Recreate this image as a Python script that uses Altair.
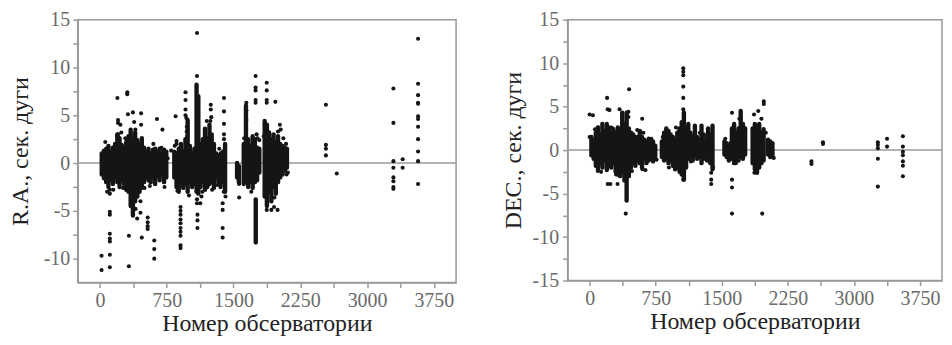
import altair as alt
import pandas as pd

# ---------- R.A. panel: dense body per observatory column (x, low, high) ----------
RA_COL_X = [20, 45, 70, 95, 120, 145, 170, 195, 220, 245, 270, 295, 320, 345, 370, 395, 420, 445, 470, 495,
            520, 545, 570, 595, 620, 645, 670, 695, 720, 745,
            835, 860, 885, 910, 935, 960, 985, 1010, 1035, 1060, 1085, 1105, 1130, 1155, 1180, 1205, 1230,
            1255, 1280, 1305, 1330, 1355, 1380, 1405,
            1540, 1560, 1615, 1640, 1665, 1690, 1715, 1740, 1750, 1765, 1790,
            1850, 1875, 1900, 1925, 1950, 1975, 2000, 2025, 2050, 2075, 2100]
RA_COL_LO = [-1.2, -1.6, -2.0, -2.5, -1.8, -2.2, -1.5, -2.0, -2.5, -1.8, -2.2, -2.8, -3.0, -4.5, -5.5, -4.0, -3.5, -3.0, -2.6, -2.0,
             -1.5, -1.8, -2.0, -1.5, -2.2, -1.4, -1.8, -1.2, -2.0, -1.5,
             -1.5, -2.5, -3.0, -2.0, -2.6, -2.2, -3.0, -2.0, -2.5, -2.2, -3.0, -3.2, -2.5, -2.0, -2.8, -2.5, -2.2,
             -2.0, -2.6, -1.5, -2.0, -2.5, -2.0, -3.0,
             -1.5, -2.0, -2.2, -1.8, -2.5, -2.0, -2.6, -2.0, -8.3, -1.8, -1.0,
             -3.5, -4.5, -3.0, -4.0, -2.5, -3.2, -2.0, -1.5, -1.2, -0.8, -0.5]
RA_COL_HI = [1.0, 1.3, 1.5, 1.8, 1.2, 1.6, 2.0, 3.0, 2.6, 1.9, 1.5, 2.2, 2.8, 3.5, 2.5, 3.2, 2.4, 2.0, 2.6, 1.6,
             1.2, 1.5, 1.0, 1.4, 1.5, 1.2, 1.5, 1.0, 1.4, 1.2,
             1.2, 1.0, 1.5, 2.0, 1.2, 2.5, 4.5, 1.8, 1.0, 1.5, 8.2, 7.0, 2.0, 2.5, 3.6, 2.6, 4.0,
             3.0, 2.0, 1.0, 0.8, 1.0, 1.2, 2.0,
             0.0, -0.3, 2.0, 6.0, 2.5, 1.8, 2.8, 2.5, -3.8, 1.6, 1.5,
             4.4, 4.0, 3.2, 2.5, 3.0, 2.2, 2.8, 2.0, 1.8, 1.6, 1.5]

# ---------- R.A. panel: individual points ----------
RA_PT_X = [18, 18, 111, 111, 111, 111, 111, 111, 111, 111, 111, 80,
           196, 203, 203, 203, 196, 230, 240,
           307, 307, 325, 325, 314, 370, 398, 384,
           462, 462, 455, 455, 418, 470, 400,
           536, 536, 536, 536, 610, 610, 610, 640, 702, 800,
           850, 860, 860,
           905, 905, 905, 905, 905, 905, 905, 905, 905, 905,
           961, 961, 961, 961, 970, 975, 975, 980,
           1090, 1090, 1090, 1090, 1095, 1095, 1095, 1127, 1140,
           1245, 1245, 1250, 1240, 1260,
           1393, 1393, 1393, 1393, 1393, 1378, 1378, 1378, 1378, 1390,
           1563, 1563, 1560,
           1644, 1644, 1644,
           1748, 1748, 1748, 1748, 1748, 1760, 1770,
           1873, 1873, 1873, 1873, 1970, 1873, 1925, 1995, 1955,
           2021, 2030, 2000, 2095, 2090,
           2538, 2538, 2538, 2538, 2660,
           3296, 3296, 3296, 3296, 3296, 3296, 3296, 3296,
           3400, 3400,
           3573, 3573, 3573, 3573, 3573, 3573, 3573, 3573, 3573, 3573, 3573, 3573,
           60, 150, 260, 285, 500, 560, 600, 690, 725, 760, 840, 870, 1000, 1150, 1200,
           1320, 1340, 1410, 1620, 1700, 1790, 1840, 1960, 2060, 2110]
RA_PT_Y = [-9.7, -11.2, -9.6, -10.9, -8.2, -7.9, -7.4, -5.4, -5.1, -3.2, -2.8, -3.0,
           6.8, 4.5, 4.2, 3.0, 2.8, 4.0, 3.2,
           7.4, 7.2, -7.6, -10.8, 5.1, 5.3, 3.5, 4.3,
           5.2, 4.0, -4.0, -5.2, -5.8, -7.8, -4.8,
           -5.7, -6.2, -6.6, -6.9, -8.1, -9.0, -10.0, 4.6, 3.5, 1.3,
           4.9, 2.3, 2.0,
           -4.6, -5.0, -5.4, -5.9, -6.3, -6.8, -7.2, -7.6, -8.6, -8.9,
           7.4, 6.6, 5.6, 5.0, 4.7, 3.8, 3.3, 2.8,
           13.6, 9.1, -3.8, -4.2, -5.4, -6.0, -6.8, -4.2, -3.5,
           6.1, 5.6, 4.8, 4.4, -2.8,
           6.8, 5.4, 4.1, 3.0, 2.5, -4.2, -4.9, -6.8, -7.8, -3.0,
           -3.6, -2.2, -1.0,
           6.3, 5.5, 4.5,
           9.1, 7.9, 7.6, 6.6, 6.3, 3.0, 2.6,
           8.4, 7.6, 6.6, 6.3, 6.4, -4.9, -4.9, -4.9, -4.6,
           4.0, 3.5, 3.3, -1.2, 2.0,
           6.1, 1.9, 1.5, 0.8, -1.1,
           7.8, 4.2, 0.2, -0.5, -1.5, -1.9, -2.5, -2.7,
           0.4, -0.5,
           13.0, 8.3, 7.1, 6.3, 6.2, 4.9, 4.6, 3.8, 2.5, 1.2, 0.2, -2.2,
           2.2, -2.8, -2.6, 2.6, -2.6, -2.4, 2.0, 1.6, -2.5, 0.5, 1.8, -2.9, -3.4, -3.0, 4.4,
           -2.3, 1.5, -3.5, 2.6, -3.0, 2.4, 2.8, -3.6, 2.6, -1.0]

# ---------- DEC panel: dense body per observatory column ----------
DEC_COL_X = [20, 45, 70, 95, 120, 145, 170, 195, 220, 245, 270, 295, 320, 345, 370, 395, 420, 445, 470, 495,
             520, 545, 570, 595, 620, 645, 670, 695, 720, 745,
             820, 845, 870, 895, 920, 945, 970, 995, 1020, 1045, 1070, 1095, 1120, 1145, 1170, 1195, 1220,
             1245, 1270, 1295, 1320, 1345, 1370, 1395,
             1530, 1555, 1580, 1615, 1640, 1665, 1690, 1715, 1740, 1765,
             1850, 1875, 1900, 1925, 1950, 1975, 2025, 2050, 2075]
DEC_COL_LO = [-0.6, -1.0, -1.8, -2.2, -1.5, -2.0, -1.2, -2.3, -1.8, -2.0, -1.5, -2.5, -2.8, -3.0, -2.5, -3.5, -5.8, -3.0, -2.0, -1.5,
              -1.8, -1.2, -1.5, -2.0, -1.0, -1.5, -1.2, -1.0, -1.3, -0.8,
              -0.8, -1.2, -1.0, -1.5, -1.2, -1.8, -2.2, -2.0, -2.5, -2.8, -3.4, -2.0, -1.0, -0.8, -1.2, -0.5, -1.0,
              -0.8, -1.5, -1.0, -0.6, -1.2, -1.5, -2.2,
              -0.5, -0.8, -1.2, -1.0, -1.5, -1.0, -1.2, -0.8, -1.0, -0.5,
              -1.5, -2.2, -2.6, -2.0, -1.5, -1.2, -0.5, -0.8, -0.6]
DEC_COL_HI = [1.5, 1.2, 2.0, 2.6, 1.8, 3.0, 2.2, 3.0, 2.6, 2.0, 2.4, 2.0, 2.6, 2.2, 4.3, 3.0, 4.3, 2.5, 2.0, 1.8,
              1.5, 1.5, 2.2, 1.5, 1.2, 1.0, 1.3, 0.8, 1.0, 0.5,
              1.0, 2.0, 2.5, 2.2, 1.8, 1.5, 1.2, 2.0, 2.5, 3.2, 4.3, 2.5, 3.0, 2.0, 1.6, 2.8, 1.5,
              1.2, 2.8, 1.8, 1.0, 2.5, 1.8, 2.8,
              1.0, 0.8, 0.6, 2.5, 3.0, 2.0, 2.5, 4.5, 3.0, 2.5,
              2.5, 3.0, 2.0, 3.0, 2.0, 2.4, 1.2, 1.0, 0.8]

# ---------- DEC panel: individual points ----------
DEC_PT_X = [0, 37, 0, 93, 93, 198, 205, 225, 205, 235, 317, 340, 448, 440, 440, 410, 597, 610, 634,
            1063, 1063, 1063, 1063, 1063, 1063, 1063,
            1380, 1380, 1380,
            1616, 1616, 1616, 1616, 1600,
            1866, 1914, 1977, 1977, 1950, 1959, 1900,
            2518, 2518, 2649, 2649,
            3272, 3272, 3272, 3272, 3272,
            3376, 3376,
            3556, 3556, 3556, 3556, 3556, 3556, 3556,
            60, 130, 250, 300, 480, 540, 600, 700, 760, 830, 900, 980, 1150, 1250, 1330,
            1400, 1540, 1660, 1700, 1870, 2000, 2090]
DEC_PT_Y = [4.1, 4.0, 1.5, 2.6, -2.4, 6.0, 4.7, 4.6, -3.9, -3.9, -3.9, 4.7, 7.0, 4.4, 3.8, -7.3, 3.6, 2.0, -2.3,
            9.4, 9.0, 8.6, 7.3, 6.0, 4.7, -3.4,
            -2.6, -3.4, -3.9,
            4.3, -3.4, -4.3, -7.3, 0.8,
            4.1, 4.5, 5.6, 5.3, 3.6, -7.3, -2.5,
            -1.3, -1.6, 0.9, 0.7,
            0.9, 0.6, 0.2, -1.0, -4.2,
            1.3, 0.4,
            1.6, 0.4, -0.2, -0.6, -1.3, -1.8, -3.0,
            2.4, -2.5, 2.6, -2.8, -2.4, 2.3, -2.2, 1.3, -1.1, 1.5, -2.0, 2.6, -1.3, 2.0, -1.2,
            -2.0, 1.3, -1.5, 3.6, -2.6, 2.0, -0.9]

X_TICKS = [0, 375, 750, 1125, 1500, 1875, 2250, 2625, 3000, 3375, 3750]
X_TITLE = "Номер обсерватории"

SERIF = "Liberation Serif"
INK = "#151515"
GRAY = "#9a9a9a"


def panel(col_x, col_lo, col_hi, pt_x, pt_y, y_domain, y_ticks, y_title, w, h,
          y_label_pad, y_title_pad):
    cols = pd.DataFrame({"x": col_x, "lo": col_lo, "hi": col_hi})
    pts = pd.DataFrame({"x": pt_x, "y": pt_y})
    zero = pd.DataFrame({"y": [0]})

    xs = alt.Scale(domain=[-250, 4000], nice=False, zero=False)
    ys = alt.Scale(domain=y_domain, nice=False, zero=False)
    common = dict(grid=False, domainColor=GRAY, domainWidth=1.5, tickColor=GRAY, tickWidth=1.5,
                  tickSize=5, labelFont=SERIF, labelFontSize=20, labelColor="#6a6a6a",
                  labelOverlap=False, labelFlush=False, titleFont=SERIF, titleFontSize=24,
                  titleFontWeight="normal", titleColor="#222222")
    xaxis = alt.Axis(values=X_TICKS, title=X_TITLE, labelPadding=3, titlePadding=1,
                     labelExpr="datum.value % 750 === 0 ? '' + datum.value : ''", **common)
    yaxis = alt.Axis(values=y_ticks, title=y_title, labelPadding=y_label_pad,
                     titlePadding=y_title_pad, minExtent=38, maxExtent=38,
                     labelExpr="datum.value % 5 === 0 ? '' + datum.value : ''", **common)

    base_rule = alt.Chart(zero).mark_rule(color=GRAY, strokeWidth=1.5).encode(
        y=alt.Y("y:Q", scale=ys, axis=yaxis)
    )
    body = alt.Chart(cols).mark_rule(strokeWidth=4.4, strokeCap="round", color=INK).encode(
        x=alt.X("x:Q", scale=xs, axis=xaxis),
        y=alt.Y("lo:Q", scale=ys, axis=yaxis),
        y2="hi:Q",
    )
    dots = alt.Chart(pts).mark_circle(size=17, opacity=1, color=INK).encode(
        x=alt.X("x:Q", scale=xs, axis=xaxis),
        y=alt.Y("y:Q", scale=ys, axis=yaxis),
    )
    return alt.layer(base_rule, body, dots).properties(width=w, height=h)


left = panel(RA_COL_X, RA_COL_LO, RA_COL_HI, RA_PT_X, RA_PT_Y,
             [-12.5, 15], [-10, -7.5, -5, -2.5, 0, 2.5, 5, 7.5, 10, 12.5, 15],
             "R.A., сек. дуги", 380, 264, 3, 7)
right = panel(DEC_COL_X, DEC_COL_LO, DEC_COL_HI, DEC_PT_X, DEC_PT_Y,
              [-15, 15], [-15, -12.5, -10, -7.5, -5, -2.5, 0, 2.5, 5, 7.5, 10, 12.5, 15],
              "DEC., сек. дуги", 376, 262, 4, 4)

chart = alt.hconcat(left, right, spacing=43).properties(
    padding={"left": 0, "top": 0, "right": 0, "bottom": 0}
).configure(
    font=SERIF
).configure_view(
    stroke=GRAY, strokeWidth=1.5
)

chart.save("out.html", embed_options={"renderer": "svg", "actions": False})
